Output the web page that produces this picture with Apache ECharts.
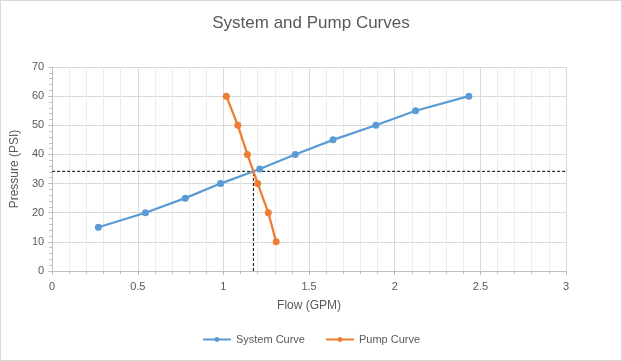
<!DOCTYPE html>
<html><head><meta charset="utf-8">
<script src="https://cdn.jsdelivr.net/npm/echarts@6/dist/echarts.min.js"></script>
<style>html,body{margin:0;padding:0;background:#fff}#c{width:620px;height:359px;border:1px solid #d9d9d9}</style>
</head><body><div id="c"></div>
<script>
const systemFlow = [0.27, 0.545, 0.777, 0.983, 1.212, 1.419, 1.64, 1.89, 2.122, 2.433];
const systemPressure = [15, 20, 25, 30, 35, 40, 45, 50, 55, 60];
const pumpFlow = [1.017, 1.084, 1.14, 1.2, 1.262, 1.308];
const pumpPressure = [60, 50, 40, 30, 20, 10];
const crossFlow = 1.175;
const crossPressure = 34.2;
const xMax = 3;

const font = '"Liberation Sans", Arial, sans-serif';
const chart = echarts.init(document.getElementById('c'));
chart.setOption({
  animation: false,
  title: {text: 'System and Pump Curves', left: 'center', top: 9,
    textStyle: {fontFamily: font, fontSize: 17, fontWeight: 'normal', color: '#595959'}},
  grid: {left: 49, right: 55, top: 66, bottom: 89, containLabel: false},
  legend: {bottom: 10, left: 'center', data: ['System Curve', 'Pump Curve'], itemWidth: 28, itemHeight: 6, itemGap: 20,
    textStyle: {fontFamily: font, fontSize: 11, color: '#595959'}},
  xAxis: {type: 'value', min: 0, max: xMax, interval: 0.5,
    name: 'Flow (GPM)', nameLocation: 'middle', nameGap: 29,
    nameTextStyle: {fontFamily: font, fontSize: 12, color: '#595959'},
    axisLine: {show: true, lineStyle: {color: '#bfbfbf'}},
    axisTick: {show: true, length: 4, lineStyle: {color: '#bfbfbf'}},
    minorTick: {show: true, splitNumber: 5, length: 3, lineStyle: {color: '#bfbfbf'}},
    axisLabel: {fontFamily: font, fontSize: 11, color: '#595959', margin: 10},
    splitLine: {show: true, lineStyle: {color: '#d9d9d9'}},
    minorSplitLine: {show: true, lineStyle: {color: '#ececec'}}},
  yAxis: {type: 'value', min: 0, max: 70, interval: 10,
    name: 'Pressure (PSI)', nameLocation: 'middle', nameGap: 27, nameRotate: 90,
    nameTextStyle: {fontFamily: font, fontSize: 12, color: '#595959'},
    axisLine: {show: true, lineStyle: {color: '#bfbfbf'}},
    axisTick: {show: true, length: 4, lineStyle: {color: '#bfbfbf'}},
    minorTick: {show: true, splitNumber: 5, length: 3, lineStyle: {color: '#bfbfbf'}},
    axisLabel: {fontFamily: font, fontSize: 11, color: '#595959', margin: 8},
    splitLine: {show: true, lineStyle: {color: '#d9d9d9'}}},
  series: [
    {name: 'System Curve', type: 'line', data: systemFlow.map((x, i) => [x, systemPressure[i]]),
      symbol: 'circle', symbolSize: 7, color: '#5b9bd5', lineStyle: {width: 2.25, color: '#5b9bd5'}, z: 3},
    {name: 'Pump Curve', type: 'line', data: pumpFlow.map((x, i) => [x, pumpPressure[i]]),
      symbol: 'circle', symbolSize: 7, color: '#ed7d31', lineStyle: {width: 2.25, color: '#ed7d31'}, z: 3},
    {name: 'hline', type: 'line', data: [[0, crossPressure], [xMax, crossPressure]], symbol: 'none',
      lineStyle: {type: [3, 2], width: 1, color: '#000'}, z: 2, silent: true},
    {name: 'vline', type: 'line', data: [[crossFlow, 0], [crossFlow, crossPressure]], symbol: 'none',
      lineStyle: {type: [3, 2], width: 1, color: '#000'}, z: 2, silent: true}
  ]
});
</script></body></html>
